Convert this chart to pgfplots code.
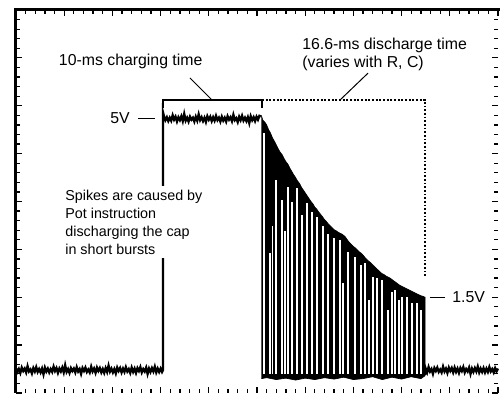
\documentclass[border=0pt]{standalone}
\usepackage{pgfplots}
\pgfplotsset{compat=1.18}
\usepackage{fontspec}
\setmainfont{Liberation Sans}
\begin{document}
\begin{tikzpicture}[lab/.style={font=\fontsize{9.5}{10.8}\selectfont, inner sep=0pt, text=black}]
\begin{axis}[
 scale only axis, width=289.2pt, height=229.8pt,
 xmin=0, xmax=50, ymin=-0.48, ymax=7.52,
 axis line style={draw=none},
 xtick={0,5,...,50},
 ytick={-0.48,0.52,1.52,2.52,3.52,4.52,5.52,6.52,7.52},
 minor x tick num=4, minor y tick num=4,
 tick align=inside,
 major tick length=3.6pt, minor tick length=2.2pt,
 tick style={black, line width=0.75pt},
 xticklabels={}, yticklabels={},
 ticklabel style={inner sep=0pt, outer sep=0pt},
 clip=false,
 unbounded coords=jump,
]
% trace: baseline, rising edge, charged plateau
\addplot[black, line width=1.4pt, line join=miter] coordinates {
(0,0.04) (0.15,-0.04) (0.3,0.02) (0.45,-0.06) (0.6,0.05) (0.75,-0.02) (0.9,0.03) (1.05,-0.05) (1.2,0.08) (1.35,-0.03) (1.5,0.01) (1.65,-0.07) (1.8,0.04) (1.95,-0.03) (2.1,0.06) (2.25,-0.04) (2.4,0.02) (2.55,-0.05) (2.7,0.03) (2.85,-0.09)
(3,0.05) (3.15,-0.03) (3.3,0.03) (3.45,-0.05) (3.6,0.02) (3.75,-0.04) (3.9,0.07) (4.05,-0.02) (4.2,0.04) (4.35,-0.06) (4.5,0.03) (4.65,-0.03) (4.8,0.05) (4.95,-0.05) (5.1,0.10) (5.25,-0.04) (5.4,0.02) (5.55,-0.06) (5.7,0.04) (5.85,-0.02)
(6,0.03) (6.15,-0.05) (6.3,0.06) (6.45,-0.03) (6.6,0.02) (6.75,-0.08) (6.9,0.04) (7.05,-0.02) (7.2,0.05) (7.35,-0.04) (7.5,0.01) (7.65,-0.05) (7.8,0.07) (7.95,-0.03) (8.1,0.03) (8.25,-0.06) (8.4,0.05) (8.55,-0.02) (8.7,0.04) (8.85,-0.05)
(9,0.02) (9.15,-0.06) (9.3,0.04) (9.45,-0.04) (9.6,0.09) (9.75,-0.03) (9.9,0.03) (10.05,-0.05) (10.2,0.02) (10.35,-0.07) (10.5,0.05) (10.65,-0.02) (10.8,0.04) (10.95,-0.05) (11.1,0.03) (11.25,-0.04) (11.4,0.06) (11.55,-0.03) (11.7,0.02) (11.85,-0.06)
(12,0.05) (12.15,-0.04) (12.3,0.03) (12.45,-0.06) (12.6,0.04) (12.75,-0.02) (12.9,0.06) (13.05,-0.05) (13.2,0.02) (13.35,-0.03) (13.5,0.05) (13.65,-0.08) (13.8,0.03) (13.95,-0.04) (14.1,0.04) (14.25,-0.03) (14.4,0.07) (14.55,-0.05) (14.7,0.03) (14.85,-0.04)
(15,0.03) (15.15,-0.04) (15.25,0.0)
(15.25,5.38)
(15.35,5.30) (15.5,5.22) (15.65,5.28) (15.8,5.20) (15.95,5.27) (16.1,5.21) (16.25,5.32) (16.4,5.23) (16.55,5.29) (16.7,5.19) (16.85,5.28) (17.0,5.22) (17.15,5.30) (17.3,5.20) (17.45,5.35) (17.6,5.21) (17.75,5.27) (17.9,5.19) (18.05,5.29) (18.2,5.23)
(18.35,5.27) (18.5,5.19) (18.65,5.29) (18.8,5.21) (18.95,5.34) (19.1,5.22) (19.25,5.28) (19.4,5.20) (19.55,5.27) (19.7,5.18) (19.85,5.30) (20.0,5.23) (20.15,5.29) (20.3,5.20) (20.45,5.28) (20.6,5.21) (20.75,5.31) (20.9,5.22) (21.05,5.27) (21.2,5.19)
(21.35,5.29) (21.5,5.21) (21.65,5.27) (21.8,5.19) (21.95,5.30) (22.1,5.23) (22.25,5.28) (22.4,5.20) (22.55,5.33) (22.7,5.22) (22.85,5.26) (23.0,5.18) (23.15,5.29) (23.3,5.22) (23.45,5.31) (23.6,5.21) (23.75,5.27) (23.9,5.20) (24.05,5.28) (24.2,5.16)
(24.35,5.30) (24.5,5.22) (24.65,5.28) (24.8,5.20) (24.95,5.29) (25.1,5.23) (25.25,5.31) (25.4,5.30)
};
% discharge region: envelope of the spikes
\addplot[fill=black, draw=black, line width=0.4pt] coordinates {
(25.45,5.32) (25.6,5.22) (25.8,5.18) (26.0,5.12) (26.2,5.02) (26.4,4.95) (26.6,4.85) (26.8,4.78) (27.0,4.70) (27.2,4.62) (27.4,4.55) (27.6,4.50) (27.8,4.42) (28.0,4.35) (28.2,4.30) (28.4,4.22) (28.6,4.15) (28.8,4.08) (29.0,4.02) (29.2,3.95) (29.4,3.90) (29.6,3.82) (29.8,3.76) (30.0,3.70) (30.2,3.64) (30.4,3.58) (30.6,3.52) (30.8,3.47) (31.0,3.40) (31.2,3.36) (31.4,3.30) (31.6,3.25) (31.8,3.20) (32.0,3.14) (32.2,3.10) (32.4,3.05) (32.6,3.01) (32.8,2.97) (33.0,2.93) (33.2,2.91) (33.4,2.88) (33.6,2.86) (33.8,2.84) (34.0,2.81) (34.2,2.77) (34.4,2.71) (34.6,2.66) (34.8,2.62) (35.0,2.58) (35.2,2.55) (35.4,2.51) (35.6,2.47) (35.8,2.44) (36.0,2.40) (36.2,2.35) (36.4,2.31) (36.6,2.27) (36.8,2.24) (37.0,2.20) (37.2,2.16) (37.4,2.12) (37.6,2.08) (37.8,2.04) (38.0,2.01) (38.2,1.99) (38.4,1.96) (38.6,1.94) (38.8,1.92) (39.0,1.89) (39.2,1.86) (39.4,1.83) (39.6,1.80) (39.8,1.77) (40.0,1.75) (40.2,1.73) (40.4,1.71) (40.6,1.69) (40.8,1.67) (41.0,1.65) (41.2,1.63) (41.4,1.61) (41.6,1.59) (41.8,1.57) (42.0,1.55) (42.2,1.54) (42.43,1.52)
(42.43,-0.12) (42.0,-0.18) (41.0,-0.14) (40.0,-0.19) (39.0,-0.15) (38.0,-0.20) (37.0,-0.14) (36.0,-0.18) (35.0,-0.20) (34.0,-0.15) (33.0,-0.19) (32.0,-0.16) (31.0,-0.20) (30.0,-0.17) (29.0,-0.21) (28.0,-0.17) (27.0,-0.20) (26.0,-0.16) (25.45,-0.18)
};
% gaps between the spikes
\addplot[white, line width=1pt] coordinates {
(25.73,-0.08) (25.73,4.95) (25.73,nan)
(26.35,-0.08) (26.35,2.44) (26.35,nan)
(26.62,-0.08) (26.62,3.00) (26.62,nan)
(26.97,-0.08) (26.97,3.97) (26.97,nan)
(27.59,-0.08) (27.59,3.55) (27.59,nan)
(27.90,-0.08) (27.90,2.90) (27.90,nan)
(28.22,-0.08) (28.22,3.82) (28.22,nan)
(28.60,-0.08) (28.60,3.50) (28.60,nan)
(29.15,-0.08) (29.15,3.80) (29.15,nan)
(29.67,-0.08) (29.67,3.24) (29.67,nan)
(30.19,-0.08) (30.19,3.49) (30.19,nan)
(30.71,-0.08) (30.71,3.30) (30.71,nan)
(31.22,-0.08) (31.22,3.19) (31.22,nan)
(31.85,-0.08) (31.85,3.00) (31.85,nan)
(32.37,-0.08) (32.37,2.85) (32.37,nan)
(32.99,-0.08) (32.99,2.75) (32.99,nan)
(33.61,-0.08) (33.61,2.71) (33.61,nan)
(33.92,-0.08) (33.92,1.82) (33.92,nan)
(34.44,-0.08) (34.44,2.46) (34.44,nan)
(35.17,-0.08) (35.17,2.36) (35.17,nan)
(35.79,-0.08) (35.79,2.19) (35.79,nan)
(36.20,-0.08) (36.20,2.23) (36.20,nan)
(36.62,-0.08) (36.62,1.46) (36.62,nan)
(37.03,-0.08) (37.03,1.94) (37.03,nan)
(37.45,-0.08) (37.45,1.92) (37.45,nan)
(37.97,-0.08) (37.97,1.88) (37.97,nan)
(38.59,-0.08) (38.59,1.25) (38.59,nan)
(39.00,-0.08) (39.00,1.63) (39.00,nan)
(39.32,-0.08) (39.32,1.67) (39.32,nan)
(39.73,-0.08) (39.73,1.46) (39.73,nan)
(40.04,-0.08) (40.04,1.52) (40.04,nan)
(40.56,-0.08) (40.56,1.52) (40.56,nan)
(41.08,-0.08) (41.08,1.40) (41.08,nan)
(41.60,-0.08) (41.60,1.40) (41.60,nan)
(42.01,-0.08) (42.01,1.25)
};
% baseline after discharge
\addplot[black, line width=1.4pt, line join=miter] coordinates {
(42.43,-0.1)
(42.5,0.03) (42.65,-0.05) (42.8,0.06) (42.95,-0.03) (43.1,0.02) (43.25,-0.08) (43.4,0.04) (43.55,-0.02) (43.7,0.05) (43.85,-0.04) (44.0,0.01) (44.15,-0.05) (44.3,0.07) (44.45,-0.03) (44.6,0.03) (44.75,-0.06) (44.9,0.05) (45.05,-0.02) (45.2,0.04) (45.35,-0.05)
(45.5,0.05) (45.65,-0.04) (45.8,0.03) (45.95,-0.06) (46.1,0.04) (46.25,-0.02) (46.4,0.06) (46.55,-0.05) (46.7,0.02) (46.85,-0.03) (47.0,0.05) (47.15,-0.08) (47.3,0.03) (47.45,-0.04) (47.6,0.04) (47.75,-0.03) (47.9,0.07) (48.05,-0.05) (48.2,0.03) (48.35,-0.04)
(48.5,0.04) (48.65,-0.05) (48.8,0.03) (48.95,-0.04) (49.1,0.06) (49.25,-0.03) (49.4,0.02) (49.55,-0.05) (49.7,0.04) (49.85,-0.03) (50,0.03)
};
% annotations
\draw[black, line width=0.7pt] (axis cs:15.25,5.47) -- (axis cs:15.25,5.64) -- (axis cs:25.52,5.64) -- (axis cs:25.52,5.47);
\draw[black, line width=0.75pt, dash pattern=on 1.1pt off 1.1pt] (axis cs:25.52,5.64) -- (axis cs:42.43,5.64) -- (axis cs:42.43,1.94);
\draw[black, line width=0.6pt] (axis cs:18.05,6.10) -- (axis cs:20.33,5.64);
\draw[black, line width=0.6pt] (axis cs:36.51,6.20) -- (axis cs:33.61,5.64);
\node[lab, anchor=center] at (axis cs:11.9,6.45) {10-ms charging time};
\node[lab, anchor=west, align=left] at (axis cs:29.67,6.60) {16.6-ms discharge time\\(varies with R, C)};
\node[lab, anchor=east] at (axis cs:11.83,5.26) {5V};
\draw[black, line width=0.6pt] (axis cs:12.66,5.26) -- (axis cs:14.42,5.26);
\draw[black, line width=0.6pt] (axis cs:42.95,1.52) -- (axis cs:44.50,1.52);
\node[lab, anchor=west] at (axis cs:45.23,1.52) {1.5V};
\node[lab, font=\fontsize{8.6}{10.8}\selectfont, anchor=west, align=left, fill=white, inner sep=2pt] at (axis cs:4.74,3.09) {Spikes are caused by\\Pot instruction\\discharging the cap\\in short bursts};
\coordinate (bl) at (rel axis cs:0,0);
\coordinate (tr) at (rel axis cs:1,1);
\end{axis}
\draw[black, line width=1.8pt] (bl) -- (bl|-tr) -- ([xshift=2pt]tr);
\pgfresetboundingbox
\useasboundingbox ([shift={(-9.6pt,-1.8pt)}]bl) rectangle ([shift={(1.2pt,6pt)}]tr);
\end{tikzpicture}
\end{document}
